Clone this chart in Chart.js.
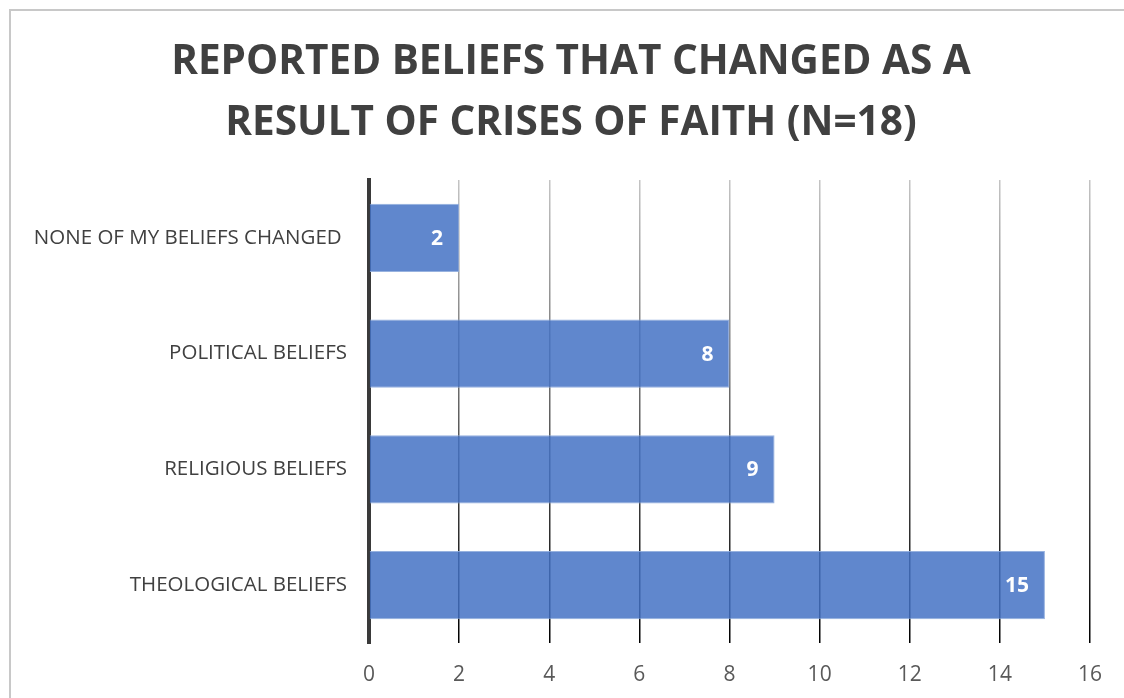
<!DOCTYPE html>
<html>
<head>
<meta charset="utf-8">
<script src="https://cdn.jsdelivr.net/npm/chart.js@4.4.0/dist/chart.umd.min.js"></script>
<style>
  html, body { margin: 0; padding: 0; background: #fff; overflow: hidden; }
  #frame {
    position: absolute; left: 9px; top: 9px;
    width: 1130px; height: 700px;
    border-top: 2px solid #c8c8c8; border-left: 2px solid #c8c8c8;
  }
  #wrap { position: absolute; left: 0; top: 0; width: 1124px; height: 698px; }
  canvas { display: block; }
</style>
</head>
<body>
<div id="frame"></div>
<div id="wrap"><canvas id="myChart" width="1124" height="698"></canvas></div>
<script>
'use strict';

const categories = ['NONE OF MY BELIEFS CHANGED ', 'POLITICAL BELIEFS', 'RELIGIOUS BELIEFS', 'THEOLOGICAL BELIEFS'];
const counts = [2, 8, 9, 15];
const xTicks = [0, 2, 4, 6, 8, 10, 12, 14, 16];
const titleLines = ['REPORTED BELIEFS THAT CHANGED AS A', 'RESULT OF CRISES OF FAITH (N=18)'];

// grid lines fade from light grey at the top to black at the axis
const gridColor = (ctx) => {
    const chart = ctx.chart;
    const area = chart.chartArea;
    if (!area) return '#999';
    if (ctx.tick && ctx.tick.value === 0) return 'rgba(0,0,0,0)';
    const g = chart.ctx.createLinearGradient(0, area.top, 0, area.bottom);
    g.addColorStop(0, '#c4c4c4');
    g.addColorStop(1, '#000000');
    return g;
};

// white value labels at the end of each bar
const barValues = {
    id: 'barValues',
    afterDatasetsDraw(chart) {
        const c = chart.ctx;
        const meta = chart.getDatasetMeta(0);
        c.save();
        c.font = 'bold 21px "Open Sans"';
        c.fillStyle = '#ffffff';
        c.textAlign = 'right';
        c.textBaseline = 'middle';
        meta.data.forEach((bar, i) => {
            c.fillText(String(counts[i]), bar.x - 16, bar.y + 1);
        });
        c.restore();
    }
};

const ctx = document.getElementById('myChart').getContext('2d');
const myChart = new Chart(ctx, {
    type: 'bar',
    data: {
        labels: categories,
        datasets: [{
            data: counts,
            backgroundColor: 'rgba(68,114,196,0.85)',
            borderColor: 'rgba(140,170,220,0.9)',
            borderWidth: 1,
            categoryPercentage: 1,
            barPercentage: 0.59
        }]
    },
    options: {
        indexAxis: 'y',
        responsive: false,
        animation: false,
        layout: { padding: { left: 18, right: 0, top: 0, bottom: 0 } },
        plugins: {
            legend: { display: false },
            tooltip: { enabled: false },
            title: {
                display: true,
                text: titleLines,
                color: '#404040',
                font: { family: '"Open Sans"', size: 40.5, weight: 'bold', lineHeight: 1.53 },
                padding: { top: 31, bottom: 25 }
            }
        },
        scales: {
            x: {
                min: 0,
                max: 16,
                afterBuildTicks: (axis) => { axis.ticks = xTicks.map(v => ({ value: v })); },
                afterFit: (axis) => { axis.height = 55; axis.paddingRight = 34; },
                grid: { color: gridColor, lineWidth: 1.5, drawTicks: false },
                border: { display: false },
                ticks: {
                    color: '#595959',
                    font: { family: '"Open Sans"', size: 21 },
                    padding: 19
                }
            },
            y: {
                afterFit: (axis) => { axis.width = 351; },
                grid: { display: false, drawTicks: false },
                border: { display: true, color: '#3a3a3a', width: 4 },
                ticks: {
                    color: '#404040',
                    font: { family: '"Open Sans"', size: 20.5 },
                    padding: 22
                }
            }
        }
    },
    plugins: [barValues]
});
</script>
</body>
</html>
